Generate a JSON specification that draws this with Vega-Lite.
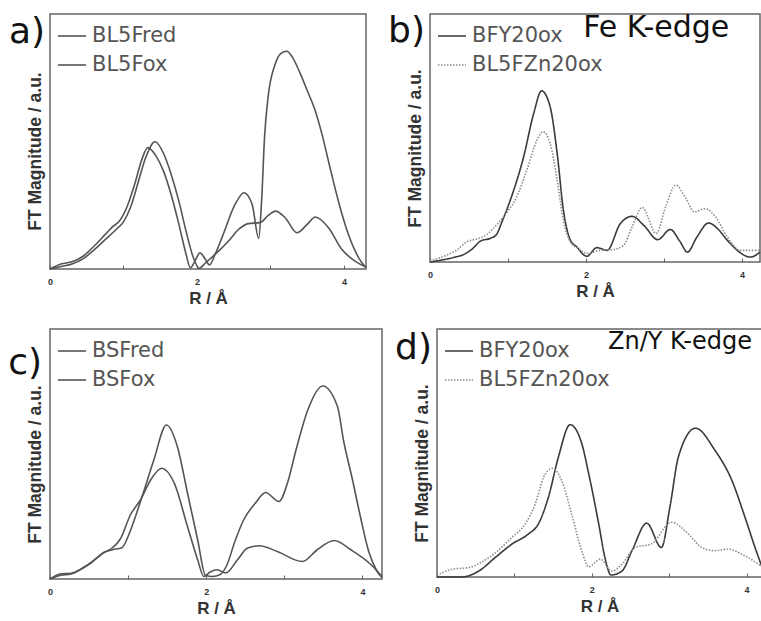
{
  "$schema": "https://vega.github.io/schema/vega-lite/v6.json",
  "background": "white",
  "padding": {"left": 7, "top": 12, "right": 0, "bottom": 0},
  "config": {
    "font": "Liberation Sans",
    "view": {"stroke": "#666", "strokeWidth": 1.5},
    "legend": {"orient": "top-left", "offset": 5, "padding": 2, "symbolType": "stroke", "symbolSize": 784, "symbolStrokeWidth": 1.6, "labelFont": "DejaVu Sans", "labelFontSize": 21, "labelColor": "#555", "labelOffset": 5, "rowPadding": 4}
  },
  "datasets": {
    "a": [
      {"s":"BL5Fred","r":0,"ft":0},{"s":"BL5Fred","r":0.15,"ft":1},{"s":"BL5Fred","r":0.3,"ft":2},{"s":"BL5Fred","r":0.45,"ft":4},{"s":"BL5Fred","r":0.6,"ft":7.5},{"s":"BL5Fred","r":0.75,"ft":11.5},{"s":"BL5Fred","r":0.9,"ft":15.5},{"s":"BL5Fred","r":1,"ft":18.5},{"s":"BL5Fred","r":1.1,"ft":24.5},{"s":"BL5Fred","r":1.2,"ft":34},{"s":"BL5Fred","r":1.3,"ft":43.5},{"s":"BL5Fred","r":1.43,"ft":49.9},{"s":"BL5Fred","r":1.55,"ft":45},{"s":"BL5Fred","r":1.65,"ft":37},{"s":"BL5Fred","r":1.75,"ft":27},{"s":"BL5Fred","r":1.85,"ft":15},{"s":"BL5Fred","r":1.95,"ft":4.5},{"s":"BL5Fred","r":2.03,"ft":0.3},{"s":"BL5Fred","r":2.12,"ft":2.5},{"s":"BL5Fred","r":2.25,"ft":5.8},{"s":"BL5Fred","r":2.43,"ft":11},{"s":"BL5Fred","r":2.57,"ft":15.6},{"s":"BL5Fred","r":2.7,"ft":17.8},{"s":"BL5Fred","r":2.86,"ft":18.2},{"s":"BL5Fred","r":2.97,"ft":21},{"s":"BL5Fred","r":3.07,"ft":22.7},{"s":"BL5Fred","r":3.2,"ft":20.1},{"s":"BL5Fred","r":3.36,"ft":14.2},{"s":"BL5Fred","r":3.5,"ft":17.5},{"s":"BL5Fred","r":3.61,"ft":20.4},{"s":"BL5Fred","r":3.79,"ft":16.2},{"s":"BL5Fred","r":3.97,"ft":7.7},{"s":"BL5Fred","r":4.15,"ft":3.1},{"s":"BL5Fred","r":4.3,"ft":0.8},
      {"s":"BL5Fox","r":0,"ft":0},{"s":"BL5Fox","r":0.15,"ft":2},{"s":"BL5Fox","r":0.3,"ft":2.8},{"s":"BL5Fox","r":0.45,"ft":5},{"s":"BL5Fox","r":0.6,"ft":9},{"s":"BL5Fox","r":0.75,"ft":13.5},{"s":"BL5Fox","r":0.85,"ft":16.5},{"s":"BL5Fox","r":0.95,"ft":19},{"s":"BL5Fox","r":1.05,"ft":24.5},{"s":"BL5Fox","r":1.15,"ft":33},{"s":"BL5Fox","r":1.25,"ft":43},{"s":"BL5Fox","r":1.33,"ft":47.6},{"s":"BL5Fox","r":1.45,"ft":44},{"s":"BL5Fox","r":1.55,"ft":38},{"s":"BL5Fox","r":1.65,"ft":29},{"s":"BL5Fox","r":1.75,"ft":18},{"s":"BL5Fox","r":1.85,"ft":6},{"s":"BL5Fox","r":1.91,"ft":0.5},{"s":"BL5Fox","r":1.97,"ft":3},{"s":"BL5Fox","r":2.04,"ft":6.4},{"s":"BL5Fox","r":2.11,"ft":4},{"s":"BL5Fox","r":2.17,"ft":1.6},{"s":"BL5Fox","r":2.25,"ft":6},{"s":"BL5Fox","r":2.34,"ft":12.3},{"s":"BL5Fox","r":2.52,"ft":25.4},{"s":"BL5Fox","r":2.64,"ft":29.9},{"s":"BL5Fox","r":2.75,"ft":25.4},{"s":"BL5Fox","r":2.84,"ft":12},{"s":"BL5Fox","r":2.88,"ft":27},{"s":"BL5Fox","r":2.92,"ft":52},{"s":"BL5Fox","r":2.97,"ft":68},{"s":"BL5Fox","r":3.06,"ft":80},{"s":"BL5Fox","r":3.14,"ft":84.5},{"s":"BL5Fox","r":3.22,"ft":85.4},{"s":"BL5Fox","r":3.3,"ft":83},{"s":"BL5Fox","r":3.4,"ft":77},{"s":"BL5Fox","r":3.5,"ft":70},{"s":"BL5Fox","r":3.61,"ft":62},{"s":"BL5Fox","r":3.7,"ft":53},{"s":"BL5Fox","r":3.8,"ft":41},{"s":"BL5Fox","r":3.93,"ft":26},{"s":"BL5Fox","r":4.06,"ft":13.6},{"s":"BL5Fox","r":4.2,"ft":4.4},{"s":"BL5Fox","r":4.3,"ft":0.5}
    ],
    "b": [
      {"s":"BFY20ox","r":0,"ft":0},{"s":"BFY20ox","r":0.15,"ft":0.8},{"s":"BFY20ox","r":0.3,"ft":1.8},{"s":"BFY20ox","r":0.45,"ft":3.3},{"s":"BFY20ox","r":0.55,"ft":5.5},{"s":"BFY20ox","r":0.65,"ft":8.5},{"s":"BFY20ox","r":0.77,"ft":9.5},{"s":"BFY20ox","r":0.85,"ft":11},{"s":"BFY20ox","r":0.92,"ft":16},{"s":"BFY20ox","r":1.03,"ft":25},{"s":"BFY20ox","r":1.2,"ft":42.4},{"s":"BFY20ox","r":1.33,"ft":60},{"s":"BFY20ox","r":1.43,"ft":69},{"s":"BFY20ox","r":1.54,"ft":62.6},{"s":"BFY20ox","r":1.63,"ft":43.8},{"s":"BFY20ox","r":1.71,"ft":20.9},{"s":"BFY20ox","r":1.8,"ft":8.8},{"s":"BFY20ox","r":1.88,"ft":6.1},{"s":"BFY20ox","r":2.01,"ft":2.3},{"s":"BFY20ox","r":2.14,"ft":5.8},{"s":"BFY20ox","r":2.27,"ft":4.7},{"s":"BFY20ox","r":2.44,"ft":15.5},{"s":"BFY20ox","r":2.59,"ft":18.4},{"s":"BFY20ox","r":2.74,"ft":14.8},{"s":"BFY20ox","r":2.92,"ft":9},{"s":"BFY20ox","r":3.08,"ft":13.1},{"s":"BFY20ox","r":3.2,"ft":8.5},{"s":"BFY20ox","r":3.3,"ft":4},{"s":"BFY20ox","r":3.42,"ft":10},{"s":"BFY20ox","r":3.57,"ft":15.7},{"s":"BFY20ox","r":3.7,"ft":13},{"s":"BFY20ox","r":3.81,"ft":8.8},{"s":"BFY20ox","r":4.11,"ft":2},{"s":"BFY20ox","r":4.23,"ft":4},
      {"s":"BL5FZn20ox","r":0,"ft":0.5},{"s":"BL5FZn20ox","r":0.21,"ft":2.7},{"s":"BL5FZn20ox","r":0.35,"ft":5},{"s":"BL5FZn20ox","r":0.47,"ft":8.1},{"s":"BL5FZn20ox","r":0.6,"ft":9.3},{"s":"BL5FZn20ox","r":0.7,"ft":10.5},{"s":"BL5FZn20ox","r":0.81,"ft":13.5},{"s":"BL5FZn20ox","r":0.94,"ft":18.2},{"s":"BL5FZn20ox","r":1.11,"ft":26.2},{"s":"BL5FZn20ox","r":1.24,"ft":37},{"s":"BL5FZn20ox","r":1.37,"ft":49.1},{"s":"BL5FZn20ox","r":1.45,"ft":52.5},{"s":"BL5FZn20ox","r":1.54,"ft":47.8},{"s":"BL5FZn20ox","r":1.63,"ft":33},{"s":"BL5FZn20ox","r":1.71,"ft":16.8},{"s":"BL5FZn20ox","r":1.8,"ft":8},{"s":"BL5FZn20ox","r":1.9,"ft":5.5},{"s":"BL5FZn20ox","r":2.01,"ft":3.5},{"s":"BL5FZn20ox","r":2.18,"ft":4.7},{"s":"BL5FZn20ox","r":2.35,"ft":5},{"s":"BL5FZn20ox","r":2.48,"ft":6.7},{"s":"BL5FZn20ox","r":2.59,"ft":14.1},{"s":"BL5FZn20ox","r":2.72,"ft":22},{"s":"BL5FZn20ox","r":2.9,"ft":11.5},{"s":"BL5FZn20ox","r":3.02,"ft":22.2},{"s":"BL5FZn20ox","r":3.15,"ft":31},{"s":"BL5FZn20ox","r":3.27,"ft":26.2},{"s":"BL5FZn20ox","r":3.39,"ft":20.2},{"s":"BL5FZn20ox","r":3.53,"ft":21.5},{"s":"BL5FZn20ox","r":3.66,"ft":18.2},{"s":"BL5FZn20ox","r":3.81,"ft":10.1},{"s":"BL5FZn20ox","r":3.98,"ft":4.7},{"s":"BL5FZn20ox","r":4.23,"ft":4.7}
    ],
    "c": [
      {"s":"BSFred","r":0,"ft":0},{"s":"BSFred","r":0.14,"ft":2.1},{"s":"BSFred","r":0.27,"ft":2.3},{"s":"BSFred","r":0.4,"ft":4},{"s":"BSFred","r":0.52,"ft":6.4},{"s":"BSFred","r":0.69,"ft":10.6},{"s":"BSFred","r":0.8,"ft":12.5},{"s":"BSFred","r":0.9,"ft":16},{"s":"BSFred","r":1.03,"ft":25.7},{"s":"BSFred","r":1.16,"ft":31.7},{"s":"BSFred","r":1.29,"ft":39.7},{"s":"BSFred","r":1.43,"ft":44.3},{"s":"BSFred","r":1.59,"ft":38.4},{"s":"BSFred","r":1.76,"ft":21},{"s":"BSFred","r":1.89,"ft":7.7},{"s":"BSFred","r":1.97,"ft":1},{"s":"BSFred","r":2.05,"ft":2.8},{"s":"BSFred","r":2.14,"ft":3.7},{"s":"BSFred","r":2.25,"ft":2.4},{"s":"BSFred","r":2.4,"ft":7.7},{"s":"BSFred","r":2.53,"ft":12.4},{"s":"BSFred","r":2.68,"ft":13.3},{"s":"BSFred","r":2.91,"ft":11},{"s":"BSFred","r":3.23,"ft":7},{"s":"BSFred","r":3.42,"ft":11.7},{"s":"BSFred","r":3.64,"ft":15.4},{"s":"BSFred","r":3.85,"ft":11.7},{"s":"BSFred","r":4.11,"ft":5.7},{"s":"BSFred","r":4.25,"ft":1},
      {"s":"BSFox","r":0,"ft":0},{"s":"BSFox","r":0.14,"ft":1.5},{"s":"BSFox","r":0.27,"ft":2},{"s":"BSFox","r":0.4,"ft":4},{"s":"BSFox","r":0.52,"ft":6.4},{"s":"BSFox","r":0.69,"ft":10.6},{"s":"BSFox","r":0.8,"ft":11.7},{"s":"BSFox","r":0.92,"ft":12.5},{"s":"BSFox","r":1,"ft":17},{"s":"BSFox","r":1.08,"ft":23.7},{"s":"BSFox","r":1.2,"ft":35},{"s":"BSFox","r":1.33,"ft":47.7},{"s":"BSFox","r":1.49,"ft":61.6},{"s":"BSFox","r":1.63,"ft":53},{"s":"BSFox","r":1.76,"ft":34.4},{"s":"BSFox","r":1.89,"ft":15.7},{"s":"BSFox","r":1.99,"ft":1.5},{"s":"BSFox","r":2.08,"ft":1},{"s":"BSFox","r":2.18,"ft":1.8},{"s":"BSFox","r":2.27,"ft":6},{"s":"BSFox","r":2.36,"ft":14.4},{"s":"BSFox","r":2.48,"ft":23.7},{"s":"BSFox","r":2.63,"ft":30.4},{"s":"BSFox","r":2.76,"ft":34.6},{"s":"BSFox","r":2.93,"ft":31},{"s":"BSFox","r":3.04,"ft":38.4},{"s":"BSFox","r":3.15,"ft":51.7},{"s":"BSFox","r":3.3,"ft":67.6},{"s":"BSFox","r":3.49,"ft":77.2},{"s":"BSFox","r":3.68,"ft":69},{"s":"BSFox","r":3.76,"ft":55},{"s":"BSFox","r":3.87,"ft":40},{"s":"BSFox","r":3.98,"ft":24},{"s":"BSFox","r":4.08,"ft":11},{"s":"BSFox","r":4.18,"ft":3.5},{"s":"BSFox","r":4.25,"ft":0.5}
    ],
    "d": [
      {"s":"BFY20ox","r":0,"ft":0},{"s":"BFY20ox","r":0.32,"ft":0},{"s":"BFY20ox","r":0.54,"ft":2.4},{"s":"BFY20ox","r":0.75,"ft":7.8},{"s":"BFY20ox","r":0.97,"ft":13.3},{"s":"BFY20ox","r":1.18,"ft":17.3},{"s":"BFY20ox","r":1.31,"ft":21.4},{"s":"BFY20ox","r":1.44,"ft":32.2},{"s":"BFY20ox","r":1.57,"ft":48.5},{"s":"BFY20ox","r":1.72,"ft":61.4},{"s":"BFY20ox","r":1.87,"ft":53.9},{"s":"BFY20ox","r":1.96,"ft":41.7},{"s":"BFY20ox","r":2.09,"ft":21.4},{"s":"BFY20ox","r":2.17,"ft":7.8},{"s":"BFY20ox","r":2.25,"ft":0.8},{"s":"BFY20ox","r":2.39,"ft":2.4},{"s":"BFY20ox","r":2.52,"ft":10.6},{"s":"BFY20ox","r":2.71,"ft":21.7},{"s":"BFY20ox","r":2.9,"ft":11.9},{"s":"BFY20ox","r":3.01,"ft":28.2},{"s":"BFY20ox","r":3.12,"ft":48.5},{"s":"BFY20ox","r":3.34,"ft":60},{"s":"BFY20ox","r":3.59,"ft":51.2},{"s":"BFY20ox","r":3.81,"ft":39},{"s":"BFY20ox","r":3.98,"ft":24.1},{"s":"BFY20ox","r":4.11,"ft":11.9},{"s":"BFY20ox","r":4.2,"ft":4},
      {"s":"BL5FZn20ox","r":0,"ft":0.6},{"s":"BL5FZn20ox","r":0.19,"ft":3.1},{"s":"BL5FZn20ox","r":0.41,"ft":3.8},{"s":"BL5FZn20ox","r":0.67,"ft":7.8},{"s":"BL5FZn20ox","r":0.97,"ft":16},{"s":"BL5FZn20ox","r":1.14,"ft":21.4},{"s":"BL5FZn20ox","r":1.27,"ft":29.5},{"s":"BL5FZn20ox","r":1.38,"ft":40.4},{"s":"BL5FZn20ox","r":1.49,"ft":43.8},{"s":"BL5FZn20ox","r":1.61,"ft":39},{"s":"BL5FZn20ox","r":1.74,"ft":25.4},{"s":"BL5FZn20ox","r":1.87,"ft":10.6},{"s":"BL5FZn20ox","r":1.96,"ft":4.1},{"s":"BL5FZn20ox","r":2.11,"ft":7.2},{"s":"BL5FZn20ox","r":2.26,"ft":2.4},{"s":"BL5FZn20ox","r":2.39,"ft":5.1},{"s":"BL5FZn20ox","r":2.56,"ft":11.9},{"s":"BL5FZn20ox","r":2.77,"ft":13.3},{"s":"BL5FZn20ox","r":3.03,"ft":22.1},{"s":"BL5FZn20ox","r":3.25,"ft":17.3},{"s":"BL5FZn20ox","r":3.42,"ft":11.9},{"s":"BL5FZn20ox","r":3.59,"ft":10.6},{"s":"BL5FZn20ox","r":3.76,"ft":11.2},{"s":"BL5FZn20ox","r":3.98,"ft":8.5},{"s":"BL5FZn20ox","r":4.2,"ft":4.2}
    ]
  },
  "resolve": {"scale": {"x": "independent", "y": "independent", "color": "independent", "strokeDash": "independent"}},
  "spacing": 21,
  "vconcat": [
    {
      "spacing": 17,
      "resolve": {"scale": {"x": "independent", "y": "independent", "color": "independent", "strokeDash": "independent"}},
      "hconcat": [
        {
          "width": 316, "height": 255,
          "layer": [
            {
              "data": {"name": "a"},
              "mark": {"type": "line", "interpolate": "monotone", "strokeWidth": 1.6},
              "encoding": {
                "x": {"field": "r", "type": "quantitative", "scale": {"domain": [0, 4.3], "nice": false, "zero": false},
                      "axis": {"values": [0,1,2,3,4], "format": "d", "labelExpr": "datum.value % 2 === 0 ? datum.label : ''", "labelFlush": false, "tickSize": -4, "tickColor": "#666", "tickWidth": 1, "labelFontSize": 9, "labelFontWeight": "bold", "labelColor": "#333", "labelPadding": 12, "title": "R / Å", "titleFontSize": 17, "titleFontWeight": "bold", "titleColor": "#333", "titlePadding": 4, "domain": false, "grid": false}},
                "y": {"field": "ft", "type": "quantitative", "scale": {"domain": [0, 100], "nice": false},
                      "axis": {"title": "FT Magnitude / a.u.", "labels": false, "ticks": false, "domain": false, "grid": false, "titleFontSize": 17.5, "titleFontWeight": "bold", "titleColor": "#333", "titlePadding": 6, "titleY": 137}},
                "color": {"field": "s", "type": "nominal", "scale": {"domain": ["BL5Fred", "BL5Fox"], "range": ["#555555", "#555555"]}, "legend": {"title": null}}
              }
            },
            {
              "data": {"values": [{"label": "a)"}]},
              "mark": {"type": "text", "font": "DejaVu Sans", "fontSize": 36, "align": "right", "baseline": "alphabetic", "dx": -5, "dy": 29, "color": "#111"},
              "encoding": {"x": {"datum": 0}, "y": {"datum": 100}, "text": {"field": "label"}}
            }
          ]
        },
        {
          "width": 330, "height": 248,
          "layer": [
            {
              "data": {"name": "b"},
              "mark": {"type": "line", "interpolate": "monotone", "strokeWidth": 1.6},
              "encoding": {
                "x": {"field": "r", "type": "quantitative", "scale": {"domain": [0, 4.23], "nice": false, "zero": false},
                      "axis": {"values": [0,1,2,3,4], "format": "d", "labelExpr": "datum.value % 2 === 0 ? datum.label : ''", "labelFlush": false, "tickSize": -4, "tickColor": "#666", "tickWidth": 1, "labelFontSize": 9, "labelFontWeight": "bold", "labelColor": "#333", "labelPadding": 12, "title": "R / Å", "titleFontSize": 17, "titleFontWeight": "bold", "titleColor": "#333", "titlePadding": 4, "domain": false, "grid": false}},
                "y": {"field": "ft", "type": "quantitative", "scale": {"domain": [0, 100], "nice": false},
                      "axis": {"title": "FT Magnitude / a.u.", "labels": false, "ticks": false, "domain": false, "grid": false, "titleFontSize": 17.5, "titleFontWeight": "bold", "titleColor": "#333", "titlePadding": 6, "titleY": 134}},
                "color": {"field": "s", "type": "nominal", "scale": {"domain": ["BFY20ox", "BL5FZn20ox"], "range": ["#3a3a3a", "#8c8c8c"]}, "legend": {"title": null}},
                "strokeDash": {"field": "s", "type": "nominal", "scale": {"domain": ["BFY20ox", "BL5FZn20ox"], "range": [[1, 0], [1.5, 1.5]]}, "legend": {"title": null}}
              }
            },
            {
              "data": {"values": [{"label": "b)"}]},
              "mark": {"type": "text", "font": "DejaVu Sans", "fontSize": 36, "align": "right", "baseline": "alphabetic", "dx": -5, "dy": 28, "color": "#111"},
              "encoding": {"x": {"datum": 0}, "y": {"datum": 100}, "text": {"field": "label"}}
            },
            {
              "data": {"values": [{"label": "Fe K-edge"}]},
              "mark": {"type": "text", "font": "DejaVu Sans", "fontSize": 30, "align": "center", "baseline": "alphabetic", "color": "#111"},
              "encoding": {"x": {"datum": 2.9}, "y": {"datum": 90.7}, "text": {"field": "label"}}
            }
          ]
        }
      ]
    },
    {
      "spacing": 8,
      "resolve": {"scale": {"x": "independent", "y": "independent", "color": "independent", "strokeDash": "independent"}},
      "hconcat": [
        {
          "width": 332, "height": 250,
          "layer": [
            {
              "data": {"name": "c"},
              "mark": {"type": "line", "interpolate": "monotone", "strokeWidth": 1.6},
              "encoding": {
                "x": {"field": "r", "type": "quantitative", "scale": {"domain": [0, 4.25], "nice": false, "zero": false},
                      "axis": {"values": [0,1,2,3,4], "format": "d", "labelExpr": "datum.value % 2 === 0 ? datum.label : ''", "labelFlush": false, "tickSize": -4, "tickColor": "#666", "tickWidth": 1, "labelFontSize": 9, "labelFontWeight": "bold", "labelColor": "#333", "labelPadding": 12, "title": "R / Å", "titleFontSize": 17, "titleFontWeight": "bold", "titleColor": "#333", "titlePadding": 4, "domain": false, "grid": false}},
                "y": {"field": "ft", "type": "quantitative", "scale": {"domain": [0, 100], "nice": false},
                      "axis": {"title": "FT Magnitude / a.u.", "labels": false, "ticks": false, "domain": false, "grid": false, "titleFontSize": 17.5, "titleFontWeight": "bold", "titleColor": "#333", "titlePadding": 6, "titleY": 135}},
                "color": {"field": "s", "type": "nominal", "scale": {"domain": ["BSFred", "BSFox"], "range": ["#555555", "#555555"]}, "legend": {"title": null}}
              }
            },
            {
              "data": {"values": [{"label": "c)"}]},
              "mark": {"type": "text", "font": "DejaVu Sans", "fontSize": 36, "align": "right", "baseline": "alphabetic", "dx": -8, "dy": 45, "color": "#111"},
              "encoding": {"x": {"datum": 0}, "y": {"datum": 100}, "text": {"field": "label"}}
            }
          ]
        },
        {
          "width": 325, "height": 248,
          "layer": [
            {
              "data": {"name": "d"},
              "mark": {"type": "line", "interpolate": "monotone", "strokeWidth": 1.6},
              "encoding": {
                "x": {"field": "r", "type": "quantitative", "scale": {"domain": [0, 4.2], "nice": false, "zero": false},
                      "axis": {"values": [0,1,2,3,4], "format": "d", "labelExpr": "datum.value % 2 === 0 ? datum.label : ''", "labelFlush": false, "tickSize": -4, "tickColor": "#666", "tickWidth": 1, "labelFontSize": 9, "labelFontWeight": "bold", "labelColor": "#333", "labelPadding": 12, "title": "R / Å", "titleFontSize": 17, "titleFontWeight": "bold", "titleColor": "#333", "titlePadding": 4, "domain": false, "grid": false}},
                "y": {"field": "ft", "type": "quantitative", "scale": {"domain": [0, 100], "nice": false},
                      "axis": {"title": "FT Magnitude / a.u.", "labels": false, "ticks": false, "domain": false, "grid": false, "titleFontSize": 17.5, "titleFontWeight": "bold", "titleColor": "#333", "titlePadding": 6, "titleY": 134}},
                "color": {"field": "s", "type": "nominal", "scale": {"domain": ["BFY20ox", "BL5FZn20ox"], "range": ["#3a3a3a", "#8c8c8c"]}, "legend": {"title": null}},
                "strokeDash": {"field": "s", "type": "nominal", "scale": {"domain": ["BFY20ox", "BL5FZn20ox"], "range": [[1, 0], [1.5, 1.5]]}, "legend": {"title": null}}
              }
            },
            {
              "data": {"values": [{"label": "d)"}]},
              "mark": {"type": "text", "font": "DejaVu Sans", "fontSize": 36, "align": "right", "baseline": "alphabetic", "dx": -5, "dy": 30, "color": "#111"},
              "encoding": {"x": {"datum": 0}, "y": {"datum": 100}, "text": {"field": "label"}}
            },
            {
              "data": {"values": [{"label": "Zn/Y K-edge"}]},
              "mark": {"type": "text", "font": "DejaVu Sans", "fontSize": 24, "align": "center", "baseline": "alphabetic", "color": "#111"},
              "encoding": {"x": {"datum": 3.14}, "y": {"datum": 92}, "text": {"field": "label"}}
            }
          ]
        }
      ]
    }
  ]
}
